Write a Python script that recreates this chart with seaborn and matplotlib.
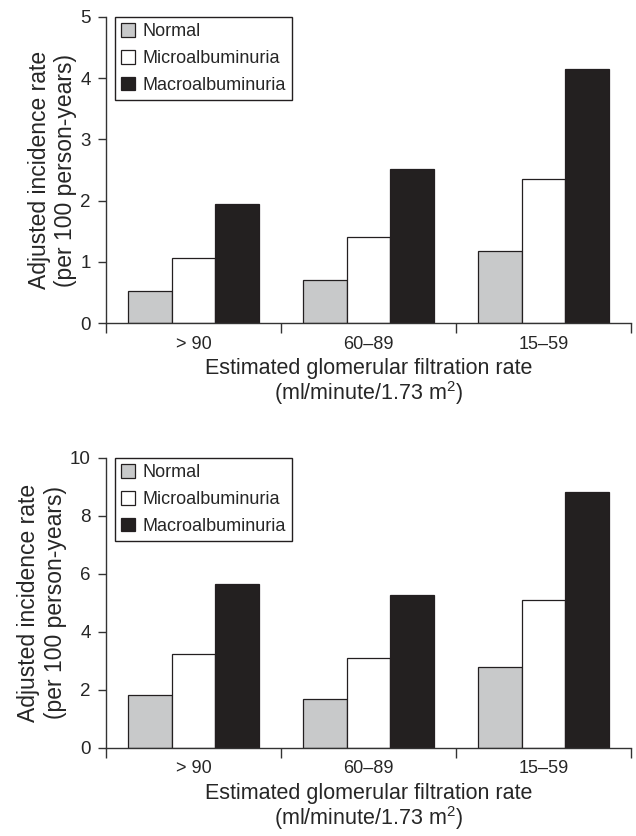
import numpy as np
import pandas as pd
import seaborn as sns
from matplotlib import pyplot as plt
from matplotlib.ticker import FixedLocator

categories = ['> 90', '60–89', '15–59']
groups = ['Normal', 'Microalbuminuria', 'Macroalbuminuria']

top_normal = [0.53, 0.70, 1.17]
top_micro = [1.06, 1.41, 2.35]
top_macro = [1.94, 2.52, 4.15]

bot_normal = [1.83, 1.68, 2.78]
bot_micro = [3.25, 3.11, 5.11]
bot_macro = [5.66, 5.26, 8.81]

top_yticks = [0, 1, 2, 3, 4, 5]
bot_yticks = [0, 2, 4, 6, 8, 10]

sns.set_style('ticks')
plt.rcParams['font.family'] = ['Liberation Sans', 'DejaVu Sans']
plt.rcParams['mathtext.fontset'] = 'custom'
plt.rcParams['mathtext.rm'] = 'Liberation Sans'
plt.rcParams['mathtext.it'] = 'Liberation Sans'

colors = {'Normal': '#c8c9ca', 'Microalbuminuria': '#ffffff', 'Macroalbuminuria': '#231f20'}
dark = '#231f20'


def make_df(normal, micro, macro):
    rows = []
    for g, vals in zip(groups, [normal, micro, macro]):
        for c, v in zip(categories, vals):
            rows.append({'gfr': c, 'group': g, 'rate': v})
    return pd.DataFrame(rows)


def draw(ax, df, yticks):
    sns.barplot(data=df, x='gfr', y='rate', hue='group', order=categories,
                hue_order=groups, palette=colors, width=0.75, edgecolor=dark,
                linewidth=0.9, ax=ax)
    ax.set_xlim(-0.5, 2.5)
    ax.set_ylim(yticks[0], yticks[-1])
    ax.set_yticks(yticks)
    ax.set_xticks(range(len(categories)))
    ax.set_xticklabels(categories)
    ax.xaxis.set_minor_locator(FixedLocator([-0.5, 0.5, 1.5, 2.5]))
    ax.tick_params(axis='x', which='major', length=0, labelsize=13, pad=9)
    ax.tick_params(axis='x', which='minor', length=7, width=1, color='#333333', direction='out')
    ax.tick_params(axis='y', length=6, width=1, color='#333333', labelsize=13.5, pad=5)
    for s in ['top', 'right']:
        ax.spines[s].set_visible(False)
    for s in ['left', 'bottom']:
        ax.spines[s].set_color('#333333')
        ax.spines[s].set_linewidth(1)
    ax.set_xlabel('Estimated glomerular filtration rate\n(ml/minute/1.73 m$^{2}$)',
                  fontsize=15.5, linespacing=1.0, labelpad=4)
    ax.set_ylabel('Adjusted incidence rate\n(per 100 person-years)',
                  fontsize=16.5, linespacing=1.2, labelpad=2)
    handles, labels = ax.get_legend_handles_labels()
    ax.legend(handles, labels, loc='upper left', bbox_to_anchor=(0.017, 1.0),
              frameon=True, fancybox=False, edgecolor=dark, framealpha=1,
              fontsize=13, handlelength=0.75, handleheight=0.75, handletextpad=0.4,
              labelspacing=0.55, borderpad=0.35, borderaxespad=0)
    ax.get_legend().get_frame().set_linewidth(1)


fig = plt.figure(figsize=(6.36, 8.36), dpi=100)
ax1 = fig.add_axes([0.1667, 0.6136, 0.9922 - 0.1667, 0.9797 - 0.6136])
ax2 = fig.add_axes([0.1667, 0.1053, 0.9922 - 0.1667, 0.4522 - 0.1053])

draw(ax1, make_df(top_normal, top_micro, top_macro), top_yticks)
draw(ax2, make_df(bot_normal, bot_micro, bot_macro), bot_yticks)

fig.savefig('out.png', dpi=100, facecolor='white')
